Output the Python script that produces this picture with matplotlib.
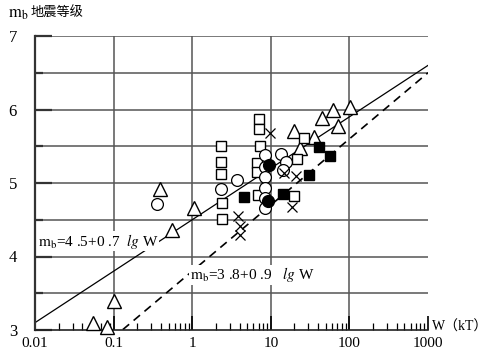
import matplotlib
matplotlib.use("Agg")
import matplotlib.pyplot as plt
import numpy as np
from matplotlib.ticker import LogLocator, NullFormatter, FixedLocator

# Yield W (kT) vs body-wave magnitude mb
sq_open_w = [2.3, 2.3, 2.3, 2.4, 2.4, 7.0, 7.0, 7.2, 6.7, 6.7, 6.8, 21.5, 26.5, 20.0]
sq_open_mb = [5.50, 5.29, 5.12, 4.73, 4.51, 5.87, 5.73, 5.50, 5.27, 5.15, 4.84, 5.33, 5.61, 4.82]

sq_fill_w = [4.5, 14.4, 31.0, 41.5, 57.0]
sq_fill_mb = [4.81, 4.85, 5.11, 5.49, 5.37]

circ_open_w = [0.355, 2.35, 3.7, 8.5, 8.5, 8.5, 8.5, 8.5, 8.5, 13.6, 15.7, 14.4]
circ_open_mb = [4.71, 4.92, 5.04, 5.38, 5.22, 5.08, 4.93, 4.80, 4.66, 5.39, 5.29, 5.18]

circ_fill_w = [9.6, 9.3]
circ_fill_mb = [5.24, 4.75]

tri_w = [0.054, 0.082, 0.1, 0.39, 0.56, 1.04, 20.0, 23.3, 35.0, 45.0, 61.0, 72.0, 101.0]
tri_mb = [3.09, 3.04, 3.39, 4.92, 4.36, 4.66, 5.71, 5.47, 5.62, 5.89, 5.99, 5.78, 6.04]

cross_w = [9.9, 14.9, 21.0, 18.6, 3.8, 4.0, 4.0]
cross_mb = [5.68, 5.13, 5.09, 4.67, 4.55, 4.42, 4.29]

# fitted relations mb = a + b lgW
fit_solid = (4.5, 0.7)
fit_dashed = (3.8, 0.9)

x_ticks = [0.01, 0.1, 1, 10, 100, 1000]
x_labels = ["0.01", "0.1", "1", "10", "100", "1000"]
y_ticks = [3, 4, 5, 6, 7]

plt.rcParams["font.family"] = ["Liberation Serif", "Noto Sans CJK SC"]
plt.rcParams["mathtext.fontset"] = "stix"

fig = plt.figure(figsize=(4.92, 3.56), dpi=100)
ax = fig.add_axes([35 / 492, 1 - 330 / 356, (428 - 35) / 492, (330 - 36) / 356])

ax.set_xscale("log")
ax.set_xlim(0.01, 1000)
ax.set_ylim(3, 7)

grid_c = "#555555"
for v in np.arange(3.5, 7.01, 0.5):
    ax.axhline(v, color=grid_c, lw=1.1, zorder=1)
for v in x_ticks[1:-1]:
    ax.axvline(v, color=grid_c, lw=1.1, zorder=1)

# fit lines
w = np.logspace(-2, 3, 200)
ax.plot(w, fit_solid[0] + fit_solid[1] * np.log10(w), color="black", lw=0.9, zorder=2)
ax.plot(w, fit_dashed[0] + fit_dashed[1] * np.log10(w), color="black", lw=1.2,
        ls=(0, (5, 3.5)), zorder=2)

mk = dict(linestyle="none", clip_on=False, zorder=4)
ax.plot(tri_w, tri_mb, marker="^", ms=10, mfc="white", mec="black", mew=1.0, **mk)
ax.plot(sq_open_w, sq_open_mb, marker="s", ms=7.5, mfc="white", mec="black", mew=1.0, **mk)
ax.plot(circ_open_w, circ_open_mb, marker="o", ms=8.5, mfc="white", mec="black", mew=0.9, **mk)
ax.plot(cross_w, cross_mb, marker="x", ms=7.5, color="black", mew=0.9, **mk)
ax.plot(sq_fill_w, sq_fill_mb, marker="s", ms=7.5, mfc="black", mec="black", **mk)
ax.plot(circ_fill_w, circ_fill_mb, marker="o", ms=8.5, mfc="black", mec="black", **mk)

# equation labels
box = dict(facecolor="white", edgecolor="none", pad=0.5)
ax.text(0.0108, 4.21, r"$\mathrm{m_b}$=4 .5+0 .7  $\mathit{lg}$ W", fontsize=11,
        ha="left", va="center", bbox=box, zorder=3)
ax.text(0.93, 3.75, r"$\mathrm{m_b}$=3 .8+0 .9   $\mathit{lg}$ W", fontsize=11,
        ha="left", va="center", bbox=box, zorder=3)

# spines and ticks
for s in ["top", "right"]:
    ax.spines[s].set_visible(False)
ax.spines["left"].set_linewidth(1.6)
ax.spines["left"].set_color("#333333")
ax.spines["bottom"].set_linewidth(1.2)
ax.spines["bottom"].set_color("#222222")

ax.xaxis.set_major_locator(FixedLocator(x_ticks))
ax.set_xticklabels(x_labels)
ax.xaxis.set_minor_locator(LogLocator(base=10, subs=np.arange(2, 10), numticks=20))
ax.xaxis.set_minor_formatter(NullFormatter())
ax.tick_params(axis="x", which="major", direction="in", length=10, width=1.2,
               labelsize=11, pad=5)
ax.tick_params(axis="x", which="minor", direction="in", length=5, width=0.9)

ax.yaxis.set_major_locator(FixedLocator(y_ticks))
ax.yaxis.set_minor_locator(FixedLocator([3.5, 4.5, 5.5, 6.5]))
ax.tick_params(axis="y", which="major", direction="in", length=12, width=1.6,
               labelsize=12, pad=13, color="#333333")
ax.tick_params(axis="y", which="minor", direction="in", length=6, width=1.6,
               color="#333333")

fig.text(8 / 492, 1 - 14 / 356, r"$\mathrm{m_b}$", fontsize=12, ha="left", va="center")
fig.text(31 / 492, 1 - 13 / 356, "地震等级", fontsize=9.5, ha="left", va="center",
         family=["Noto Sans CJK SC", "DejaVu Sans"])
fig.text(432 / 492, 1 - 327 / 356, "W（kT）", fontsize=10, ha="left", va="center",
         family=["Liberation Serif", "Noto Sans CJK SC"])

fig.savefig("out.png", dpi=100)
